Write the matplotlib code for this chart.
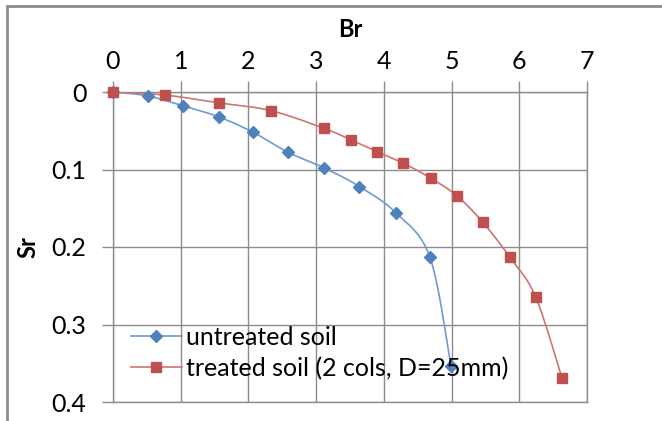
import numpy as np
import matplotlib
matplotlib.use("Agg")
import matplotlib.pyplot as plt
from matplotlib.patches import Rectangle

plt.rcParams['font.family'] = ['Lato', 'DejaVu Sans']

# settlement ratio Sr against bearing ratio Br
br_untreated = [0, 0.51, 1.04, 1.56, 2.07, 2.59, 3.12, 3.64, 4.18, 4.68, 4.99]
sr_untreated = [0, 0.005, 0.018, 0.032, 0.052, 0.078, 0.098, 0.122, 0.156, 0.213, 0.353]

br_treated = [0, 0.77, 1.56, 2.33, 3.12, 3.52, 3.90, 4.29, 4.69, 5.08, 5.46, 5.86, 6.24, 6.63]
sr_treated = [0, 0.004, 0.014, 0.024, 0.047, 0.062, 0.077, 0.092, 0.111, 0.134, 0.168, 0.213, 0.264, 0.369]

x_ticks = [0, 1, 2, 3, 4, 5, 6, 7]
y_ticks = [0, 0.1, 0.2, 0.3, 0.4]
y_labels = ["0", "0.1", "0.2", "0.3", "0.4"]


def smooth(xs, ys, n=30):
    # spreadsheet-style smoothed line: cubic Bezier segments, Catmull-Rom control points
    p = np.column_stack([xs, ys]).astype(float)
    out = [p[0]]
    t = np.linspace(0, 1, n)[1:, None]
    for i in range(len(p) - 1):
        p0 = p[i - 1] if i > 0 else p[i]
        p3 = p[i + 2] if i + 2 < len(p) else p[i + 1]
        c1 = p[i] + (p[i + 1] - p0) / 6
        c2 = p[i + 1] - (p3 - p[i]) / 6
        seg = ((1 - t) ** 3 * p[i] + 3 * (1 - t) ** 2 * t * c1
               + 3 * (1 - t) * t ** 2 * c2 + t ** 3 * p[i + 1])
        out.extend(seg)
    out = np.array(out)
    return out[:, 0], out[:, 1]


fig = plt.figure(figsize=(6.62, 4.21), dpi=100)
fig.patches.append(Rectangle((7 / 662, -0.1), 1.1, (421 - 6) / 421 + 0.1,
                             transform=fig.transFigure, fill=False,
                             edgecolor="#8c8c8c", linewidth=2))
ax = fig.add_axes([113 / 662, 19 / 421, 474 / 662, 310 / 421])

blue = "#4F81BD"
red = "#C0504D"

sx, sy = smooth(br_untreated, sr_untreated)
ax.plot(sx, sy, color="#6E9BD2", lw=1.2, zorder=3)
ax.plot(br_untreated, sr_untreated, ls="none", marker="D", ms=6, color=blue,
        zorder=4, clip_on=False)
sx, sy = smooth(br_treated, sr_treated)
ax.plot(sx, sy, color="#D07472", lw=1.2, zorder=3)
ax.plot(br_treated, sr_treated, ls="none", marker="s", ms=7.5, color=red,
        zorder=4, clip_on=False)

# legend handles
h1, = ax.plot([], [], color="#6E9BD2", lw=1.2, marker="D", ms=6, mfc=blue, mec=blue)
h2, = ax.plot([], [], color="#D07472", lw=1.2, marker="s", ms=7.5, mfc=red, mec=red)
ax.legend([h1, h2], ["untreated soil", "treated soil (2 cols, D=25mm)"],
          loc="lower left", bbox_to_anchor=(0.0, 0.015), frameon=False,
          fontsize=18, handlelength=2.05, handletextpad=0.15, labelspacing=0.3,
          borderaxespad=0.3)

ax.set_xlim(0, 7)
ax.set_ylim(0.4, 0)
ax.set_xticks(x_ticks)
ax.set_yticks(y_ticks)
ax.set_yticklabels(y_labels)
ax.xaxis.tick_top()
ax.xaxis.set_label_position("top")
ax.tick_params(axis="x", length=8, width=1, color="#8c8c8c", pad=6, labelsize=18)
ax.tick_params(axis="y", length=8, width=1, color="#8c8c8c", pad=11, labelsize=18)
ax.grid(True, color="#8c8c8c", lw=1)
ax.set_axisbelow(True)
for s in ax.spines.values():
    s.set_color("#8c8c8c")
    s.set_linewidth(1)

ax.set_xlabel("Br", fontsize=17, fontweight="bold", labelpad=9)
ax.set_ylabel("Sr", fontsize=17, fontweight="bold", labelpad=9)

fig.savefig("out.png", dpi=100)
